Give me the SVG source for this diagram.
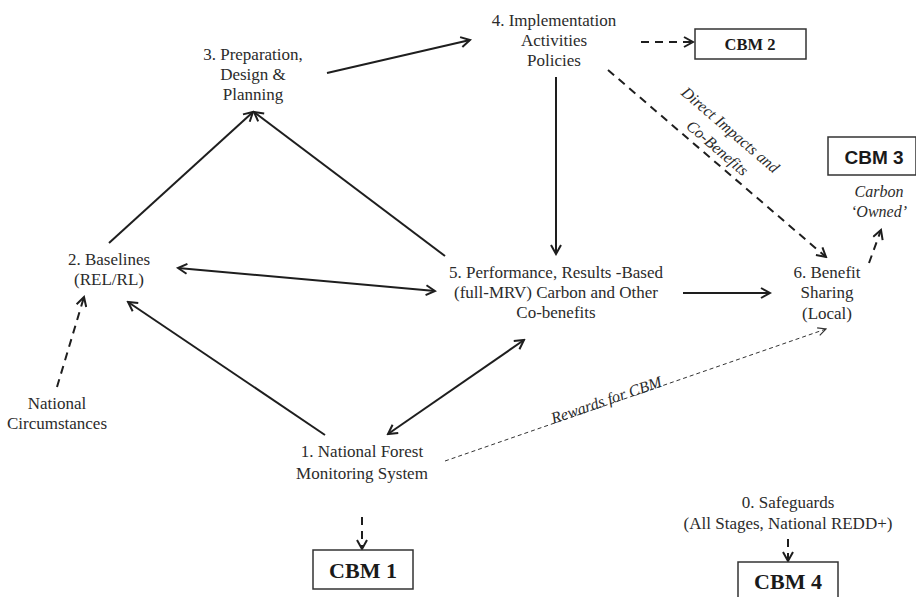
<svg xmlns="http://www.w3.org/2000/svg" width="916" height="597" viewBox="0 0 916 597">
<style>
text{font-family:"Liberation Serif","Times New Roman",serif;font-size:17px;fill:#2b2b2b;text-anchor:middle}
.it{font-style:italic;font-size:16px}
.cbm{font-weight:bold;font-size:22px;fill:#1a1a1a}
.box{fill:#fff;stroke:#333;stroke-width:1.5}
.ln{stroke:#1e1e1e;stroke-width:2;fill:none}
.dash{stroke:#1e1e1e;stroke-width:2;fill:none;stroke-dasharray:8 6}
.fine{stroke:#333;stroke-width:1;fill:none;stroke-dasharray:4 3}
</style>
<defs>
<marker id="ah" viewBox="0 0 12 12" refX="10" refY="6" markerWidth="12" markerHeight="12" markerUnits="userSpaceOnUse" orient="auto-start-reverse">
<path d="M1,1 L10,6 L1,11" fill="none" stroke="#1e1e1e" stroke-width="2" stroke-dasharray="none"/>
</marker>
<marker id="ahs" viewBox="0 0 10 10" refX="9" refY="5" markerWidth="10" markerHeight="10" markerUnits="userSpaceOnUse" orient="auto">
<path d="M1,1 L9,5 L1,9" fill="none" stroke="#333" stroke-width="1.2" stroke-dasharray="none"/>
</marker>
</defs>

<g id="connectors">
<line class="ln" x1="327" y1="73" x2="470" y2="40" marker-end="url(#ah)"/>
<line class="ln" x1="109" y1="243" x2="253" y2="112" marker-end="url(#ah)"/>
<line class="ln" x1="445" y1="256" x2="254" y2="112" marker-end="url(#ah)"/>
<line class="ln" x1="178" y1="268" x2="435" y2="291" marker-start="url(#ah)" marker-end="url(#ah)"/>
<line class="ln" x1="556" y1="77" x2="556" y2="254" marker-end="url(#ah)"/>
<line class="ln" x1="683" y1="293" x2="770" y2="293" marker-end="url(#ah)"/>
<line class="ln" x1="325" y1="435" x2="128" y2="302" marker-end="url(#ah)"/>
<line class="ln" x1="388" y1="434" x2="524" y2="340" marker-start="url(#ah)" marker-end="url(#ah)"/>
<line class="dash" x1="641" y1="42" x2="693" y2="42" marker-end="url(#ah)"/>
<line class="dash" x1="608" y1="70" x2="826" y2="257" marker-end="url(#ah)"/>
<line class="dash" x1="869" y1="263" x2="881" y2="230" marker-end="url(#ah)"/>
<line class="dash" x1="57" y1="387" x2="84" y2="297" marker-end="url(#ah)"/>
<line class="dash" x1="362" y1="517" x2="362" y2="549" marker-end="url(#ah)"/>
<line class="dash" x1="788" y1="539" x2="788" y2="561" marker-end="url(#ah)"/>
<line class="fine" x1="445" y1="461" x2="826" y2="329" marker-end="url(#ahs)"/>
<text class="it" transform="translate(727,134) rotate(40.6)">Direct Impacts and</text>
<text class="it" transform="translate(714,152) rotate(40.6)">Co-Benefits</text>
<text class="it" transform="translate(608,405) rotate(-19)">Rewards for CBM</text>
</g>

<g id="n3"><text x="253" y="60">3. Preparation,</text><text x="253" y="80">Design &amp;</text><text x="253" y="100">Planning</text></g>
<g id="n4"><text x="554" y="26">4. Implementation</text><text x="554" y="46">Activities</text><text x="554" y="66">Policies</text></g>
<g id="cbm2"><rect class="box" x="695" y="29" width="111" height="30"/><text class="cbm" x="750" y="50" style="font-size:16.5px">CBM 2</text></g>
<g id="cbm3"><rect class="box" x="828" y="137" width="88" height="38"/><text x="874" y="164" style="font-family:'Liberation Sans',Arial,sans-serif;font-weight:bold;font-size:19px;fill:#1a1a1a">CBM 3</text></g>
<g id="carbon"><text class="it" x="879" y="197">Carbon</text><text class="it" x="879" y="217">‘Owned’</text></g>
<g id="n2"><text x="109" y="265">2. Baselines</text><text x="109" y="285">(REL/RL)</text></g>
<g id="n5"><text x="556" y="278">5. Performance, Results -Based</text><text x="556" y="298">(full-MRV) Carbon and Other</text><text x="556" y="318">Co-benefits</text></g>
<g id="n6"><text x="827" y="278">6. Benefit</text><text x="827" y="298">Sharing</text><text x="827" y="319">(Local)</text></g>
<g id="natc"><text x="57" y="409">National</text><text x="57" y="429">Circumstances</text></g>
<g id="n1"><text x="362" y="457">1. National Forest</text><text x="362" y="479">Monitoring System</text></g>
<g id="cbm1"><rect class="box" x="313" y="550" width="100" height="39"/><text class="cbm" x="363" y="578">CBM 1</text></g>
<g id="n0"><text x="788" y="508">0. Safeguards</text><text x="788" y="529">(All Stages, National REDD+)</text></g>
<g id="cbm4"><rect class="box" x="738" y="562" width="100" height="40"/><text class="cbm" x="788" y="589">CBM 4</text></g>
</svg>
